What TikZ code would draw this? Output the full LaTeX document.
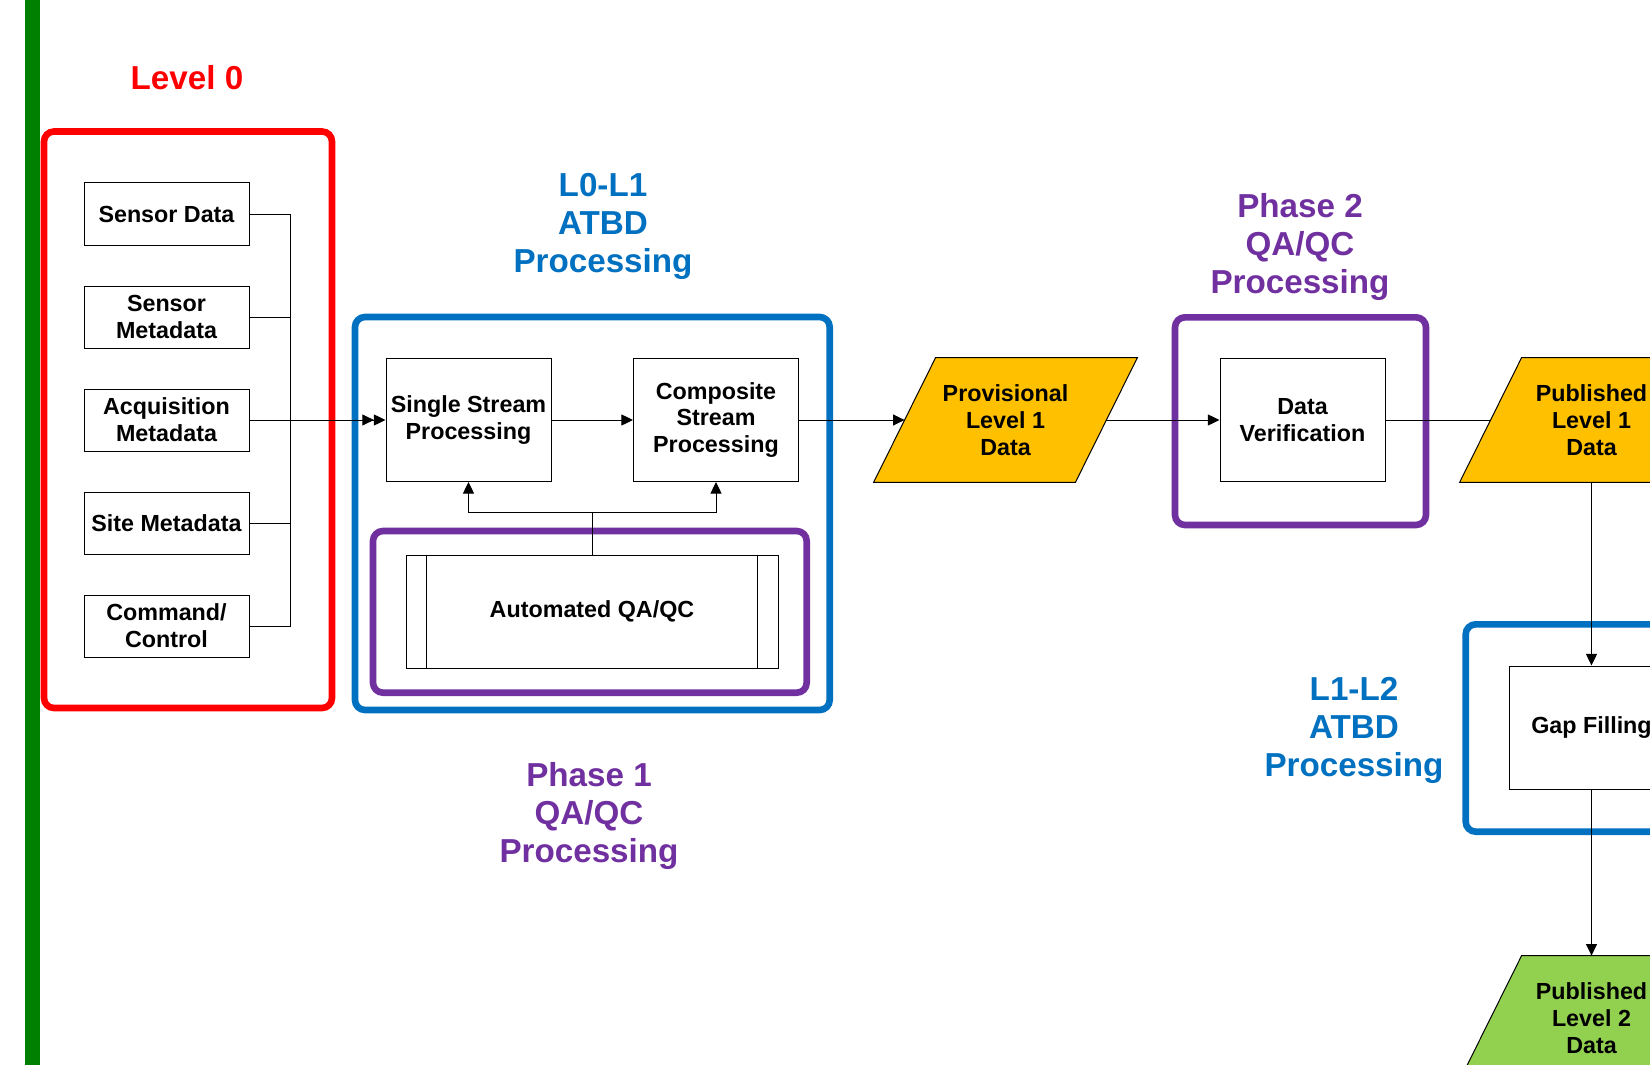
\documentclass[tikz,border=0pt]{standalone}
\usepackage{fontspec}
\setmainfont{Liberation Sans}
\usetikzlibrary{arrows.meta,backgrounds,positioning}

\definecolor{lvlred}{HTML}{FF0000}
\definecolor{atbdblue}{HTML}{0070C0}
\definecolor{qapurple}{HTML}{7030A0}
\definecolor{provyellow}{HTML}{FFC000}
\definecolor{pubgreen}{HTML}{92D050}
\definecolor{bargreen}{HTML}{008000}

\newcommand{\boxtxt}{\fontsize{11.65pt}{13.35pt}\selectfont\bfseries}
\newcommand{\lbltxt}{\fontsize{16.6pt}{19pt}\selectfont\bfseries}
% slanted data shape behind a data node: #1 node name, #2 fill colour
\newcommand{\dataframe}[2]{%
	\begin{scope}[on background layer]
		\filldraw[link, fill=#2] ([xshift=15.5pt]#1.north west) -- ([xshift=15.5pt]#1.north east)
			-- ([xshift=-15.5pt]#1.south east) -- ([xshift=-15.5pt]#1.south west) -- cycle;
	\end{scope}}

\tikzset{
	lzbox/.style={draw, line width=0.5pt, minimum width=82.5pt, minimum height=31pt, inner sep=0pt, align=center, font=\boxtxt},
	procbox/.style={lzbox, minimum height=61.5pt},
	databox/.style={minimum width=100.5pt, minimum height=62pt, inner sep=0pt, align=center, font=\boxtxt},
	grpframe/.style={line width=3.3pt, rounded corners=5pt},
	grplabel/.style={align=center, font=\lbltxt},
	link/.style={line width=0.5pt},
	conn/.style={link, -{Triangle[length=5.8pt,width=5.5pt]}},
	merge/.style={link, -{Triangle[length=5.8pt,width=5.5pt]Triangle[length=5.8pt,width=5.5pt]}},
}

\begin{document}
\begin{tikzpicture}[x=0.5pt, y=-0.5pt]
	\useasboundingbox (0,0) rectangle (1650,1065);
	\begin{scope}[on background layer]
		\fill[white] (0,0) rectangle (1650,1065);
	\end{scope}
	\fill[bargreen] (25,0) rectangle (40,1065);

	\draw[grpframe, lvlred] (44,131.5) rectangle (332,708);
	\draw[grpframe, atbdblue] (355,317) rectangle (829.7,710);
	\draw[grpframe, qapurple] (373,531) rectangle (806.7,692.7);
	\draw[grpframe, qapurple] (1175,317.3) rectangle (1426,525);
	\draw[grpframe, atbdblue] (1465.7,624.3) rectangle (1716,831.7);

	\node[grplabel, lvlred] (lvl0) at (187,78) {Level 0};
	\node[grplabel, atbdblue] (atbd1) at (603,226.5) {L0-L1\\ATBD\\Processing};
	\node[grplabel, qapurple] (phase1) at (589,815.5) {Phase 1\\QA/QC\\Processing};
	\node[grplabel, qapurple] (phase2) at (1300,246.5) {Phase 2\\QA/QC\\Processing};
	\node[grplabel, atbdblue] (atbd2) at (1354,730.5) {L1-L2\\ATBD\\Processing};

	\node[lzbox] (sdata) at (166.5,214) {Sensor Data};
	\node[lzbox] (smeta) at (166.5,317) {Sensor\\Metadata};
	\node[lzbox] (acq) at (166.5,420) {Acquisition\\Metadata};
	\node[lzbox] (site) at (166.5,523) {Site Metadata};
	\node[lzbox] (cmd) at (166.5,626) {Command/\\Control};
	\coordinate (bus) at (290,420);

	\node[procbox] (single) at (468.5,420) {Single Stream\\Processing};
	\node[procbox] (comp) at (716,420) {Composite\\Stream\\Processing};
	\node[lzbox, minimum width=186pt, minimum height=56.5pt] (aqc) at (592,611.5) {Automated QA/QC};
	\draw[link] ([xshift=10.5pt]aqc.north west) -- ([xshift=10.5pt]aqc.south west);
	\draw[link] ([xshift=-10.5pt]aqc.north east) -- ([xshift=-10.5pt]aqc.south east);

	\node[databox] (prov) at (1005.5,420) {Provisional\\Level 1\\Data};
	\dataframe{prov}{provyellow}
	\node[procbox] (verif) at (1302.5,420) {Data\\Verification};
	\node[databox] (pub1) at (1591.5,420) {Published\\Level 1\\Data};
	\dataframe{pub1}{provyellow}
	\node[procbox] (gap) at (1591.5,727.5) {Gap Filling};
	\node[databox] (pub2) at (1591.5,1018) {Published\\Level 2\\Data};
	\dataframe{pub2}{pubgreen}

	\draw[link] (sdata.east) -| (bus);
	\draw[link] (cmd.east) -| (bus);
	\draw[link] (smeta.east) -- (smeta.east -| bus);
	\draw[link] (site.east) -- (site.east -| bus);
	\draw[merge] (acq.east) -- (single.west);
	\draw[conn] (single) -- (comp);
	\draw[link] (aqc.north) -- ++(0,-42) coordinate (split);
	\draw[conn] (split) -| (single.south);
	\draw[conn] (split) -| (comp.south);
	\draw[conn] (comp.east) -- (prov.west);
	\draw[conn] (prov.east) -- (verif.west);
	\draw[link] (verif.east) -- (pub1.west);
	\draw[conn] (pub1.south) -- (gap.north);
	\draw[conn] (gap.south) -- (pub2.north);
\end{tikzpicture}
\end{document}
